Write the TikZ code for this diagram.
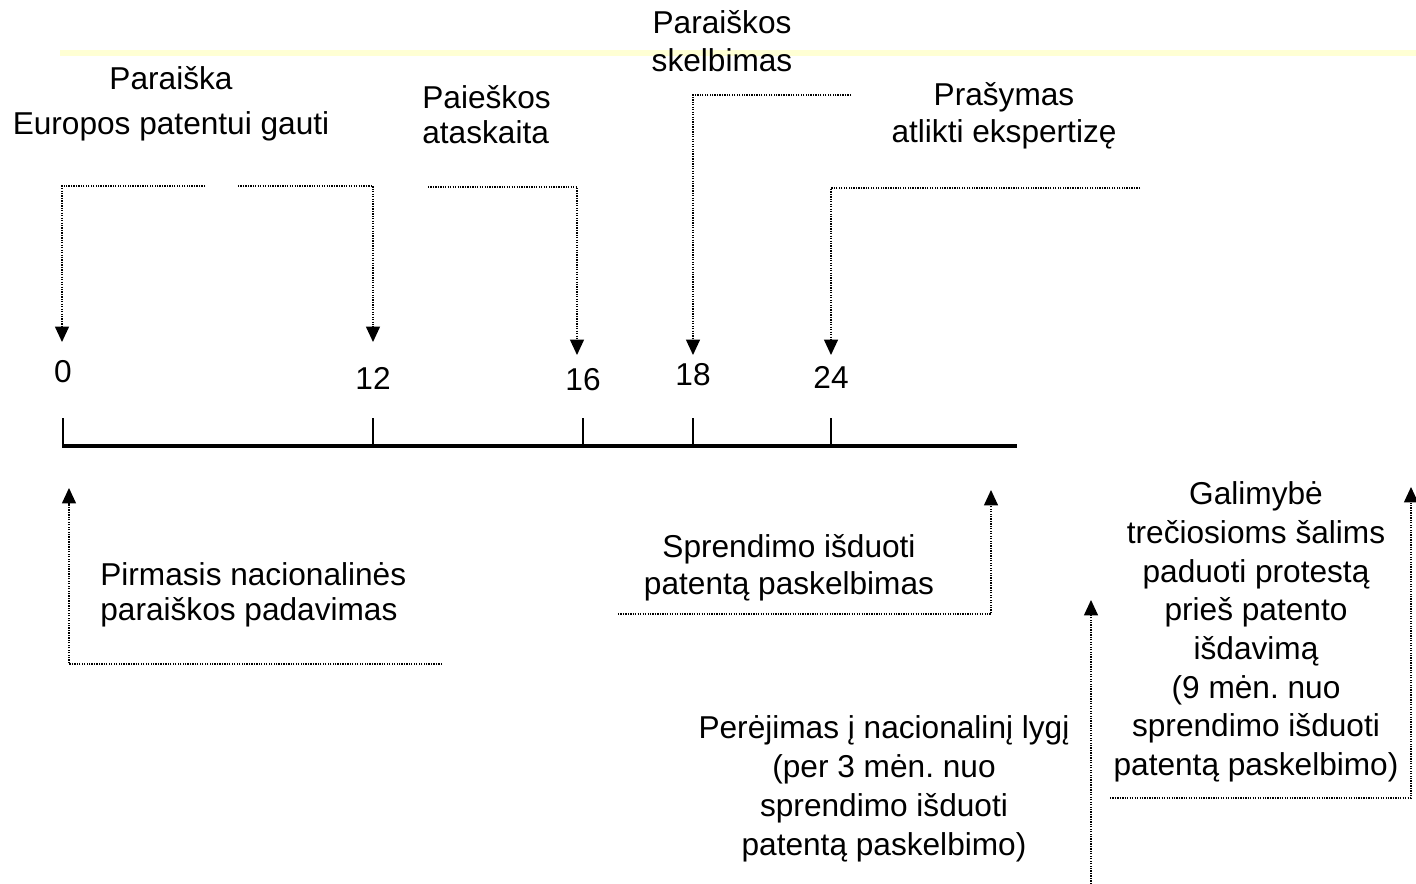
\documentclass[tikz,border=0pt]{standalone}
\usepackage{fontspec}
\setmainfont{Liberation Sans}
\usetikzlibrary{arrows.meta}
\definecolor{paleyellow}{RGB}{255,255,212}
\frenchspacing

\begin{document}
\begin{tikzpicture}[x=0.02cm,y=-0.02cm,
	conn/.style={line width=0.7pt,dash pattern=on 0.7pt off 0.7pt,-{Triangle[width=8pt,length=8.8pt]}},
	txt/.style={font=\fontsize{18}{21.6}\selectfont,inner sep=0pt},
	lbl/.style={font=\fontsize{18}{21.6}\selectfont,inner sep=0pt}]

	\useasboundingbox (0,0) rectangle (1416,884);

	% Draw the pale yellow line at the top
	\draw[line width=3pt,paleyellow] (60,53) -- (1416,53);

	% Draw the time axis (months)
	\draw[line width=1.8pt] (62,446) -- (1017,446);

	% Draw the month ticks and their numbers
	\foreach \x/\lab/\ly in {63/0/372,373/12/378,583/16/380,693/18/375,831/24/377}{
		\draw[line width=0.8pt] (\x,446) -- (\x,418);
		\node[lbl] (m\lab) at (\x,\ly) {\lab};
	}

	% Texts above the axis
	\node[txt,align=center] (paraiska) at (171,104) {Paraiška\\[4pt]Europos patentui gauti};
	\node[txt,align=left,anchor=west] (paieskos) at (422,115) {Paieškos\\[-1.7pt]ataskaita};
	\node[txt,align=center] (skelbimas) at (722,41) {Paraiškos\\skelbimas};
	\node[txt,align=center] (prasymas) at (1004,116) {Prašymas\\[-0.6pt]atlikti ekspertizę};

	% Texts below the axis
	\node[txt,align=left,anchor=west] (pirmasis) at (100,595) {Pirmasis nacionalinės\\[-1.7pt]paraiškos padavimas};
	\node[txt,align=center] (sprendimo) at (789,568) {Sprendimo išduoti\\[-0.6pt]patentą paskelbimas};
	\node[txt,align=center] (galimybe) at (1256,632) {Galimybė\\[0.4pt]trečiosioms šalims\\[0.4pt]paduoti protestą\\[0.4pt]prieš patento\\[0.4pt]išdavimą\\[0.4pt](9 mėn. nuo\\[0.4pt]sprendimo išduoti\\[0.4pt]patentą paskelbimo)};
	\node[txt,align=center] (perejimas) at (884,789) {Perėjimas į nacionalinį lygį\\[0.6pt](per 3 mėn. nuo\\[0.6pt]sprendimo išduoti\\[0.6pt]patentą paskelbimo)};

	% Ends and tips of the dotted connectors
	\coordinate (s0) at (205,186);  \coordinate (t0) at (62,342);
	\coordinate (s12) at (238,186); \coordinate (t12) at (373,342);
	\coordinate (s16) at (428,187); \coordinate (t16) at (577,355);
	\coordinate (s18) at (851,95);  \coordinate (t18) at (693,355);
	\coordinate (s24) at (1140,188); \coordinate (t24) at (831,355);
	\coordinate (sp) at (442,664);  \coordinate (tp) at (69,488);
	\coordinate (ss) at (618,614);  \coordinate (ts) at (991,490);
	\coordinate (sn) at (1091,884); \coordinate (tn) at (1091,600);
	\coordinate (sg) at (1110,798); \coordinate (tg) at (1411,487);

	% Draw the connectors down to the axis
	\draw[conn] (s0) -| (t0);
	\draw[conn] (s12) -| (t12);
	\draw[conn] (s16) -| (t16);
	\draw[conn] (s18) -| (t18);
	\draw[conn] (s24) -| (t24);

	% Draw the connectors up from the lower texts
	\draw[conn] (sp) -| (tp);
	\draw[conn] (ss) -| (ts);
	\draw[conn] (sn) -- (tn);
	\draw[conn] (sg) -| (tg);

\end{tikzpicture}
\end{document}
